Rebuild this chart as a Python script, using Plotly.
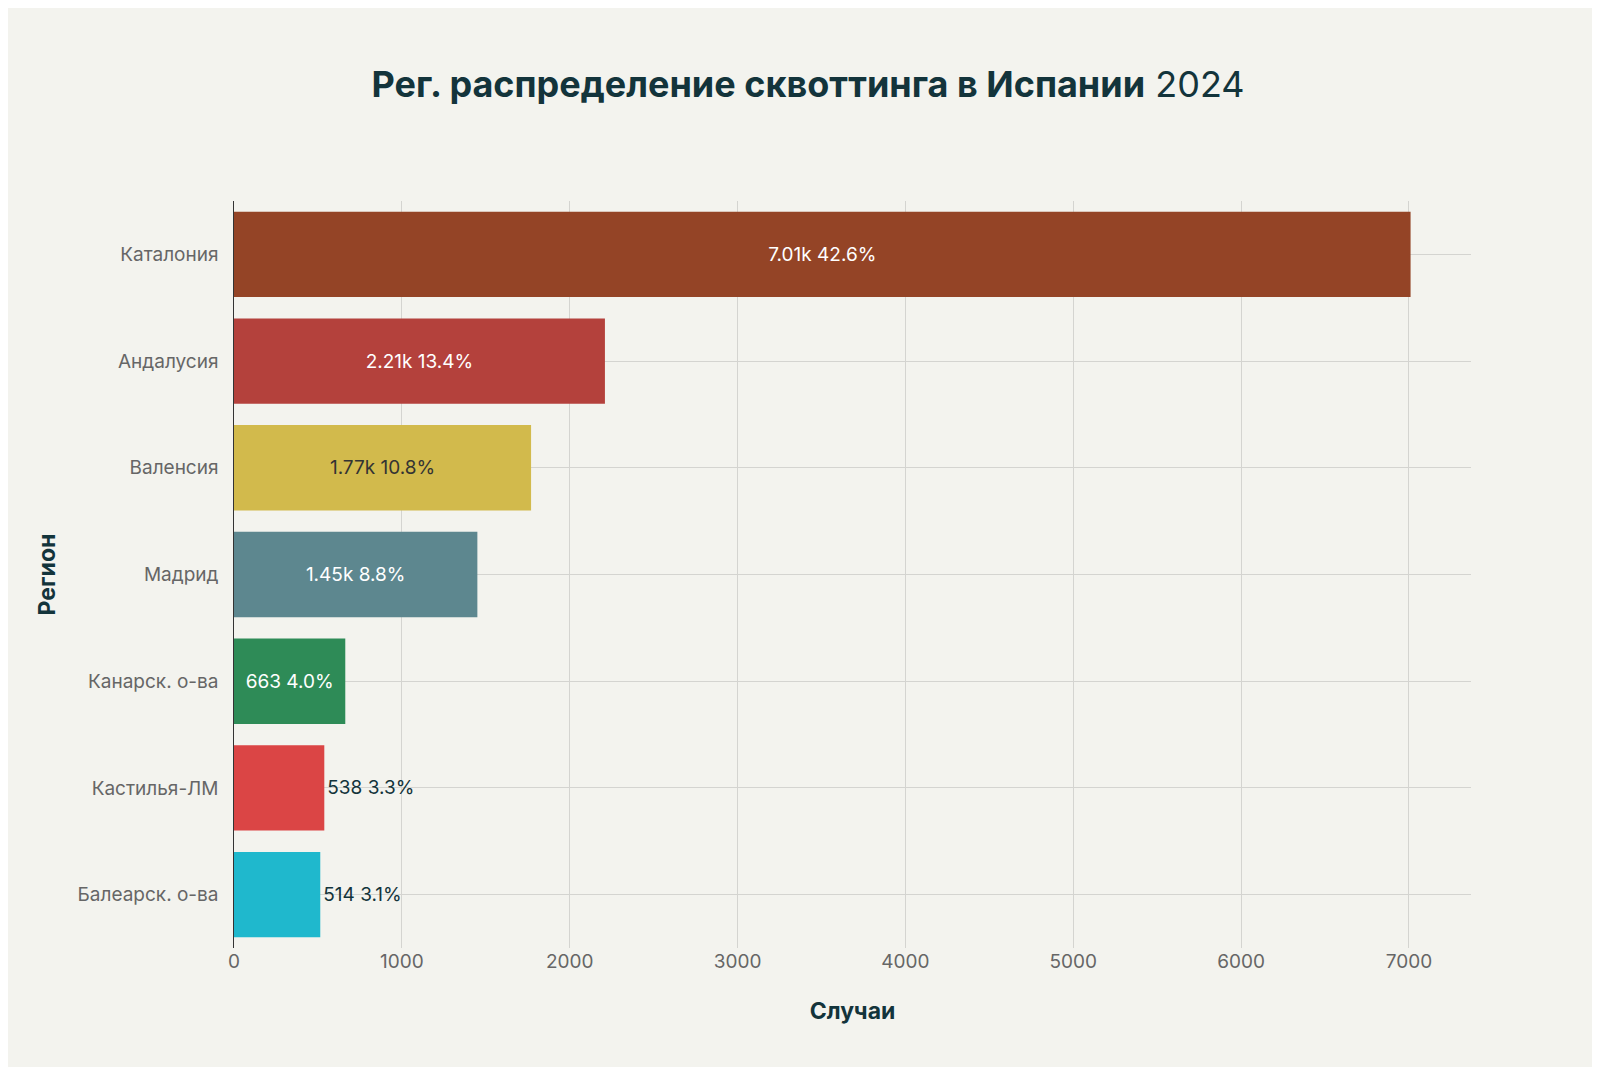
import plotly.graph_objects as go

regions = ["Каталония", "Андалусия", "Валенсия", "Мадрид", "Канарск. о-ва", "Кастилья-ЛМ", "Балеарск. о-ва"]
cases = [7010, 2210, 1770, 1450, 663, 538, 514]
labels = ["7.01k", "2.21k", "1.77k", "1.45k", "663", "538", "514"]
shares = ["42.6%", "13.4%", "10.8%", "8.8%", "4.0%", "3.3%", "3.1%"]
colors = ["#944426", "#b4413c", "#d2ba4c", "#5d878f", "#2e8b57", "#db4545", "#1fb8cd"]
text_colors = ["#ffffff", "#ffffff", "#333333", "#ffffff", "#ffffff", "#13343b", "#13343b"]
positions = ["inside", "inside", "inside", "inside", "inside", "outside", "outside"]

fig = go.Figure(go.Bar(
    x=cases, y=regions, orientation="h",
    marker=dict(color=colors, line=dict(width=0)),
    text=[f"{a} {b}" for a, b in zip(labels, shares)],
    textposition=positions, insidetextanchor="middle",
    textfont=dict(color=text_colors, size=19),
    cliponaxis=False,
))
fig.update_layout(
    width=1600, height=1067,
    paper_bgcolor="#f3f3ee", plot_bgcolor="#f3f3ee",
    font=dict(family="Inter, Noto Sans, sans-serif", color="#13343b"),
    title=dict(text="<b>Рег. распределение сквоттинга в Испании</b> 2024", x=0.5, xanchor="center",
               y=0.94, font=dict(size=36, color="#13343b")),
    margin=dict(l=226, r=137, t=193, b=127),
    bargap=0.2, showlegend=False,
    xaxis=dict(range=[0, 7370], dtick=1000, showgrid=True, gridcolor="#d4d4d0",
               zeroline=False, title=dict(text="<b>Случаи</b>", font=dict(size=23), standoff=30),
               tickfont=dict(size=19, color="#666666"), ticks=""),
    yaxis=dict(autorange="reversed", showgrid=True, gridcolor="#d4d4d0",
               showline=True, linecolor="#333333", linewidth=1,
               title=dict(text="<b>Регион</b>", font=dict(size=23), standoff=15),
               tickfont=dict(size=19, color="#666666"), ticksuffix="  "),
)
fig.write_html("out.html")
